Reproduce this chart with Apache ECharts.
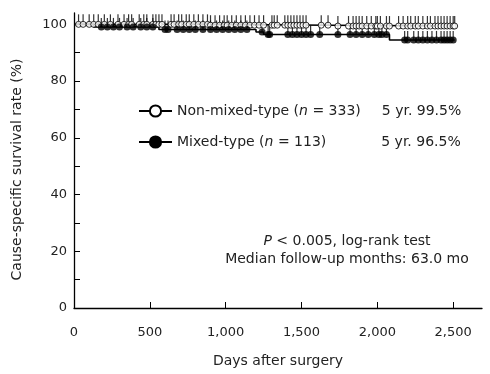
<!DOCTYPE html>
<html><head><meta charset="utf-8">
<script src="https://cdn.jsdelivr.net/npm/echarts@6/dist/echarts.min.js"></script>
<style>html,body{margin:0;padding:0;background:#fff}#c{width:490px;height:374px}</style>
</head><body><div id="c"></div>
<script>
// ---- data ----
const xTicks = [0, 500, 1000, 1500, 2000, 2500];
const yTicks = [0, 10, 20, 30, 40, 50, 60, 70, 80, 90, 100];
const yLabels = [0, 20, 40, 60, 80, 100];
const nonMixedSteps = [[0, 100], [900, 99.7], [1700, 99.4], [2510, 99.4]];
const mixedSteps = [[0, 100], [130, 99.1], [560, 98.2], [1200, 97.3], [1250, 96.4], [2080, 94.5], [2510, 94.5]];
const nonMixedCensor = [30, 60, 100, 130, 160, 200, 240, 290, 330, 360, 380, 430, 460, 480, 520, 540, 560, 580,
  640, 660, 690, 710, 740, 760, 790, 820, 850, 880, 900, 930, 960, 990, 1010, 1040, 1070, 1100, 1130, 1160, 1190, 1220, 1250, 1305,
  1320, 1340, 1390, 1410, 1430, 1450, 1470, 1490, 1510, 1530, 1630, 1675, 1740, 1810, 1840, 1860, 1880, 1900, 1930, 1960, 1990,
  2000, 2020, 2060, 2080, 2140, 2170, 2200, 2220, 2250, 2270, 2300, 2330, 2350, 2380, 2400, 2420, 2440, 2460, 2480, 2500, 2510];
const mixedCensor = [180, 220, 260, 300, 350, 390, 440, 480, 520, 600,
  620, 680, 720, 760, 800, 850, 900, 940, 980, 1020, 1060, 1100, 1140, 1240, 1280,
  1290, 1410, 1440, 1470, 1500, 1530, 1560, 1620, 1740, 1820, 1860, 1900, 1940, 1980,
  2010, 2030, 2060, 2180, 2200, 2240, 2270, 2300, 2330, 2360, 2390, 2420, 2440, 2460, 2480, 2500];
const legendNames = ['Non-mixed-type', 'Mixed-type'];
const legendN = ['333', '113'];
const legendFiveYr = ['5 yr. 99.5%', '5 yr. 96.5%'];

function survAt(steps, d) { let s = steps[0][1]; for (const [t, v] of steps) { if (t <= d) s = v; } return s; }
const FONT = 'DejaVu Sans';
const C = '#222';

const chart = echarts.init(document.getElementById('c'), null, { renderer: 'canvas' });
const censorPts = (steps, days) => days.map(d => [d, survAt(steps, d)]);

chart.setOption({
  animation: false,
  backgroundColor: '#fff',
  textStyle: { fontFamily: FONT },
  grid: { left: 74, right: 8, top: 13, bottom: 66 },
  xAxis: {
    type: 'value', min: 0, max: 2690,
    name: 'Days after surgery', nameLocation: 'middle', nameGap: 46,
    nameTextStyle: { fontFamily: FONT, fontSize: 14, color: C },
    axisLine: { lineStyle: { color: '#000', width: 1.3 } },
    axisTick: { inside: true, length: 6, customValues: xTicks, lineStyle: { color: '#000', width: 1 } },
    axisLabel: { customValues: xTicks, margin: 18, fontFamily: FONT, fontSize: 13, color: C },
    splitLine: { show: false }
  },
  yAxis: {
    type: 'value', min: 0, max: 104,
    name: 'Cause-specific survival rate (%)', nameLocation: 'middle', nameGap: 50, nameRotate: 90,
    nameTextStyle: { fontFamily: FONT, fontSize: 14, color: C, padding: [0, 18, 0, 0] },
    axisLine: { show: true, lineStyle: { color: '#000', width: 1.3 } },
    axisTick: { show: true, inside: true, length: 6, customValues: yTicks, lineStyle: { color: '#000', width: 1 } },
    axisLabel: { customValues: yLabels, margin: 7, fontFamily: FONT, fontSize: 13, color: C },
    splitLine: { show: false }
  },
  legend: {
    data: legendNames, orient: 'vertical', left: 133, top: 99,
    itemWidth: 33, itemHeight: 14, itemGap: 17,
    selectedMode: false,
    textStyle: {
      fontFamily: FONT, fontSize: 14, color: C,
      rich: {
        a: { fontFamily: FONT, fontSize: 14, color: C },
        i: { fontFamily: FONT, fontSize: 14, color: C, fontStyle: 'italic' },
        s1: { width: 21 }, s2: { width: 55 }
      }
    },
    formatter: name => {
      const k = legendNames.indexOf(name);
      return '{a|' + name + ' (}{i|n}{a| = ' + legendN[k] + ')}{s' + (k + 1) + '|}{a|' + legendFiveYr[k] + '}';
    }
  },
  graphic: [
    { type: 'text', x: 347, y: 241, silent: true,
      style: { text: '{i|P} < 0.005, log-rank test', textAlign: 'center', textVerticalAlign: 'middle',
        font: '14px "DejaVu Sans"', fill: C,
        rich: { i: { fontStyle: 'italic', fontFamily: FONT, fontSize: 14, fill: C } } } },
    { type: 'text', x: 347, y: 259, silent: true,
      style: { text: 'Median follow-up months: 63.0 mo', textAlign: 'center', textVerticalAlign: 'middle',
        font: '14px "DejaVu Sans"', fill: C } }
  ],
  series: [
    { name: 'Non-mixed-type', type: 'line', step: 'end', data: nonMixedSteps,
      symbol: 'circle', symbolSize: 8, showSymbol: false, silent: true,
      itemStyle: { color: '#fff', borderColor: '#000', borderWidth: 1.2 },
      lineStyle: { color: '#000', width: 1.6 }, z: 2 },
    { name: 'Mixed-type', type: 'line', step: 'end', data: mixedSteps,
      symbol: 'circle', symbolSize: 8, showSymbol: false, silent: true,
      itemStyle: { color: '#000', borderColor: '#000', borderWidth: 1 },
      lineStyle: { color: '#000', width: 1.6 }, z: 2 },
    { type: 'scatter', data: censorPts(nonMixedSteps, nonMixedCensor), symbol: 'rect',
      symbolSize: [1.2, 10], symbolOffset: [0, -5], itemStyle: { color: '#000' }, silent: true, z: 3 },
    { type: 'scatter', data: censorPts(mixedSteps, mixedCensor), symbol: 'rect',
      symbolSize: [1.2, 9], symbolOffset: [0, -4.5], itemStyle: { color: '#000' }, silent: true, z: 3 },
    { type: 'scatter', data: censorPts(nonMixedSteps, nonMixedCensor), symbol: 'circle', symbolSize: 6,
      itemStyle: { color: '#fff', borderColor: '#000', borderWidth: 1 }, silent: true, z: 4 },
    { type: 'scatter', data: censorPts(mixedSteps, mixedCensor), symbol: 'circle', symbolSize: 7,
      itemStyle: { color: '#000' }, silent: true, z: 4 }
  ]
});
</script></body></html>
